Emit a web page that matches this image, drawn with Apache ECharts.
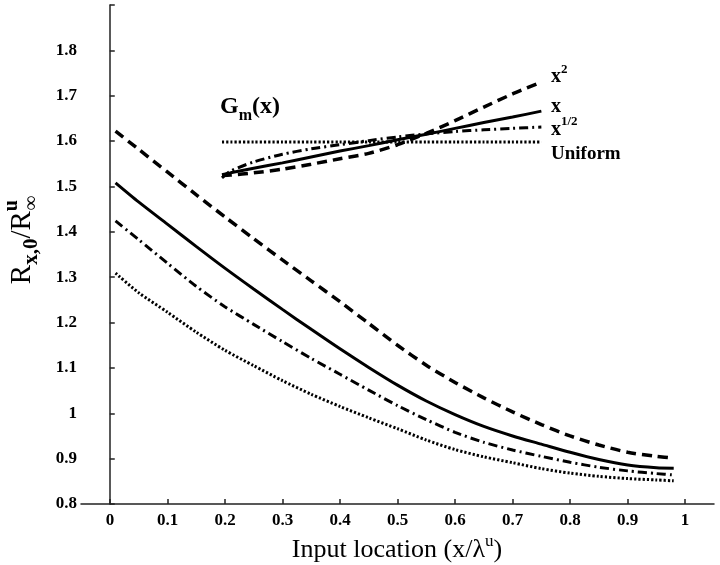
<!DOCTYPE html>
<html>
<head>
<meta charset="utf-8">
<script src="https://cdn.jsdelivr.net/npm/echarts@6/dist/echarts.min.js"></script>
<style>
html, body { margin: 0; padding: 0; background: #fff; }
#main { width: 720px; height: 565px; }
</style>
</head>
<body>
<div id="main"></div>
<script>
// input location (x / lambda^u)
const xPos = [0.01, 0.05, 0.1, 0.15, 0.2, 0.25, 0.3, 0.35, 0.4, 0.45, 0.5, 0.55, 0.6, 0.65, 0.7, 0.75, 0.8, 0.85, 0.9, 0.95, 0.98];
// R_x,0 / R^u_inf for each G_m(x)
const quadR = [1.622, 1.582, 1.532, 1.482, 1.433, 1.385, 1.338, 1.292, 1.246, 1.198, 1.150, 1.106, 1.068, 1.034, 1.003, 0.975, 0.950, 0.930, 0.914, 0.905, 0.901];
const linR  = [1.508, 1.466, 1.417, 1.368, 1.320, 1.274, 1.229, 1.185, 1.142, 1.101, 1.062, 1.027, 0.997, 0.971, 0.950, 0.932, 0.914, 0.898, 0.886, 0.880, 0.879];
const sqrtR = [1.424, 1.383, 1.331, 1.280, 1.235, 1.196, 1.158, 1.121, 1.086, 1.051, 1.017, 0.986, 0.958, 0.936, 0.919, 0.905, 0.892, 0.881, 0.873, 0.867, 0.864];
const unifR = [1.309, 1.266, 1.223, 1.179, 1.139, 1.105, 1.072, 1.042, 1.015, 0.990, 0.966, 0.941, 0.920, 0.904, 0.891, 0.878, 0.868, 0.861, 0.856, 0.853, 0.851];

// inset: shape of G_m(x)
const insetX    = [0.195, 0.21, 0.25, 0.3, 0.35, 0.4, 0.45, 0.5, 0.55, 0.6, 0.65, 0.7, 0.75];
const insetQuad = [1.524, 1.525, 1.530, 1.538, 1.549, 1.561, 1.573, 1.592, 1.617, 1.645, 1.675, 1.704, 1.730];
const insetLin  = [1.526, 1.530, 1.540, 1.552, 1.565, 1.578, 1.590, 1.603, 1.615, 1.628, 1.641, 1.653, 1.666];
const insetSqrt = [1.519, 1.534, 1.554, 1.571, 1.583, 1.592, 1.601, 1.609, 1.616, 1.621, 1.625, 1.628, 1.631];
const insetUnif = [1.598, 1.598, 1.598, 1.598, 1.598, 1.598, 1.598, 1.598, 1.598, 1.598, 1.598, 1.598, 1.598];

const serif = 'Liberation Serif';

function pairs (xs, ys) {
  return xs.map((x, i) => [x, ys[i]]);
}

function curve (name, xs, ys, width, dash) {
  return {
    name: name,
    type: 'line',
    data: pairs(xs, ys),
    showSymbol: false,
    smooth: 0.25,
    silent: true,
    lineStyle: { color: '#000', width: width, type: dash, cap: 'butt' }
  };
}

const myChart = echarts.init(document.getElementById('main'));

const option = {
  backgroundColor: '#fff',
  animation: false,
  grid: [
    { left: 81, right: 6, top: 5, bottom: 61, outerBoundsMode: 'none', containLabel: false },
    // same height, used only to place the 0..1 tick labels
    { left: 110, right: 35, top: 5, bottom: 61, outerBoundsMode: 'none', containLabel: false }
  ],
  xAxis: [
    {
      type: 'value',
      gridIndex: 0,
      min: -0.05,
      max: 1.05,
      axisLine: { show: true, lineStyle: { color: '#222', width: 1.5 } },
      axisTick: { show: false },
      axisLabel: { show: false },
      splitLine: { show: false }
    },
    {
      type: 'value',
      gridIndex: 1,
      min: 0,
      max: 1,
      interval: 0.1,
      axisLine: { show: false },
      axisTick: { show: true, inside: true, length: 5, lineStyle: { color: '#222', width: 1.5 } },
      axisLabel: {
        margin: 8,
        fontFamily: serif,
        fontWeight: 'bold',
        fontSize: 17,
        color: '#000',
        formatter: v => String(Math.round(v * 10) / 10)
      },
      splitLine: { show: false }
    }
  ],
  yAxis: [
    {
      type: 'value',
      gridIndex: 0,
      min: 0.8,
      max: 1.9,
      interval: 0.1,
      axisLine: { show: true, lineStyle: { color: '#222', width: 1.5 } },
      axisTick: { show: true, inside: true, length: 5, lineStyle: { color: '#222', width: 1.5 } },
      axisLabel: {
        margin: 4,
        fontFamily: serif,
        fontWeight: 'bold',
        fontSize: 17,
        color: '#000',
        formatter: v => (v > 1.85 ? '' : String(Math.round(v * 10) / 10))
      },
      splitLine: { show: false }
    },
    {
      type: 'value',
      gridIndex: 1,
      min: 0.8,
      max: 1.9,
      show: false
    }
  ],
  graphic: [
    {
      // x axis title
      type: 'text',
      x: 397,
      y: 550,
      style: {
        text: '{t|Input location (x/λ}{sup|u}{t|)}',
        align: 'center',
        verticalAlign: 'middle',
        rich: {
          t: { fontFamily: serif, fontSize: 26, fill: '#000', lineHeight: 34 },
          sup: { fontFamily: serif, fontSize: 17, fill: '#000', verticalAlign: 'top' }
        }
      }
    },
    {
      // y axis title
      type: 'text',
      x: 22,
      y: 240,
      rotation: Math.PI / 2,
      style: {
        text: '{b|R}{sub|x,0}{b|/R}{sup|u}{sub2|∞}',
        align: 'center',
        verticalAlign: 'middle',
        rich: {
          b: { fontFamily: serif, fontSize: 29, fill: '#000', lineHeight: 40 },
          sub: { fontFamily: serif, fontSize: 21, fontWeight: 'bold', fill: '#000', verticalAlign: 'bottom' },
          sup: { fontFamily: serif, fontSize: 20, fontWeight: 'bold', fill: '#000', verticalAlign: 'top' },
          sub2: { fontFamily: serif, fontSize: 20, fontWeight: 'bold', fill: '#000', verticalAlign: 'bottom', padding: [0, 0, 0, -10] }
        }
      }
    },
    {
      type: 'text',
      x: 220,
      y: 107,
      style: {
        text: '{b|G}{sub|m}{b|(x)}',
        verticalAlign: 'middle',
        rich: {
          b: { fontFamily: serif, fontSize: 24, fontWeight: 'bold', fill: '#000', lineHeight: 34 },
          sub: { fontFamily: serif, fontSize: 16, fontWeight: 'bold', fill: '#000', verticalAlign: 'bottom' }
        }
      }
    },
    {
      type: 'text',
      x: 551,
      y: 77,
      style: {
        text: '{b|x}{sup|2}',
        verticalAlign: 'middle',
        rich: {
          b: { fontFamily: serif, fontSize: 20, fontWeight: 'bold', fill: '#000', lineHeight: 28 },
          sup: { fontFamily: serif, fontSize: 13, fontWeight: 'bold', fill: '#000', verticalAlign: 'top' }
        }
      }
    },
    {
      type: 'text',
      x: 551,
      y: 107,
      style: {
        text: 'x',
        verticalAlign: 'middle',
        fontFamily: serif, fontSize: 20, fontWeight: 'bold', fill: '#000'
      }
    },
    {
      type: 'text',
      x: 551,
      y: 130,
      style: {
        text: '{b|x}{sup|1/2}',
        verticalAlign: 'middle',
        rich: {
          b: { fontFamily: serif, fontSize: 20, fontWeight: 'bold', fill: '#000', lineHeight: 30 },
          sup: { fontFamily: serif, fontSize: 13, fontWeight: 'bold', fill: '#000', verticalAlign: 'top' }
        }
      }
    },
    {
      type: 'text',
      x: 551,
      y: 154,
      style: {
        text: 'Uniform',
        verticalAlign: 'middle',
        fontFamily: serif, fontSize: 19, fontWeight: 'bold', fill: '#000'
      }
    }
  ],
  series: [
    curve('x^2', xPos, quadR, 3.5, [10, 6]),
    curve('x', xPos, linR, 3, 'solid'),
    curve('x^1/2', xPos, sqrtR, 3, [9, 4, 2, 4]),
    curve('Uniform', xPos, unifR, 3, [2.2, 2]),
    curve('x^2 inset', insetX, insetQuad, 3.5, [10, 6]),
    curve('x inset', insetX, insetLin, 3, 'solid'),
    curve('x^1/2 inset', insetX, insetSqrt, 3, [9, 4, 2, 4]),
    curve('Uniform inset', insetX, insetUnif, 3, [2.2, 2])
  ]
};

myChart.setOption(option);
</script>
</body>
</html>
